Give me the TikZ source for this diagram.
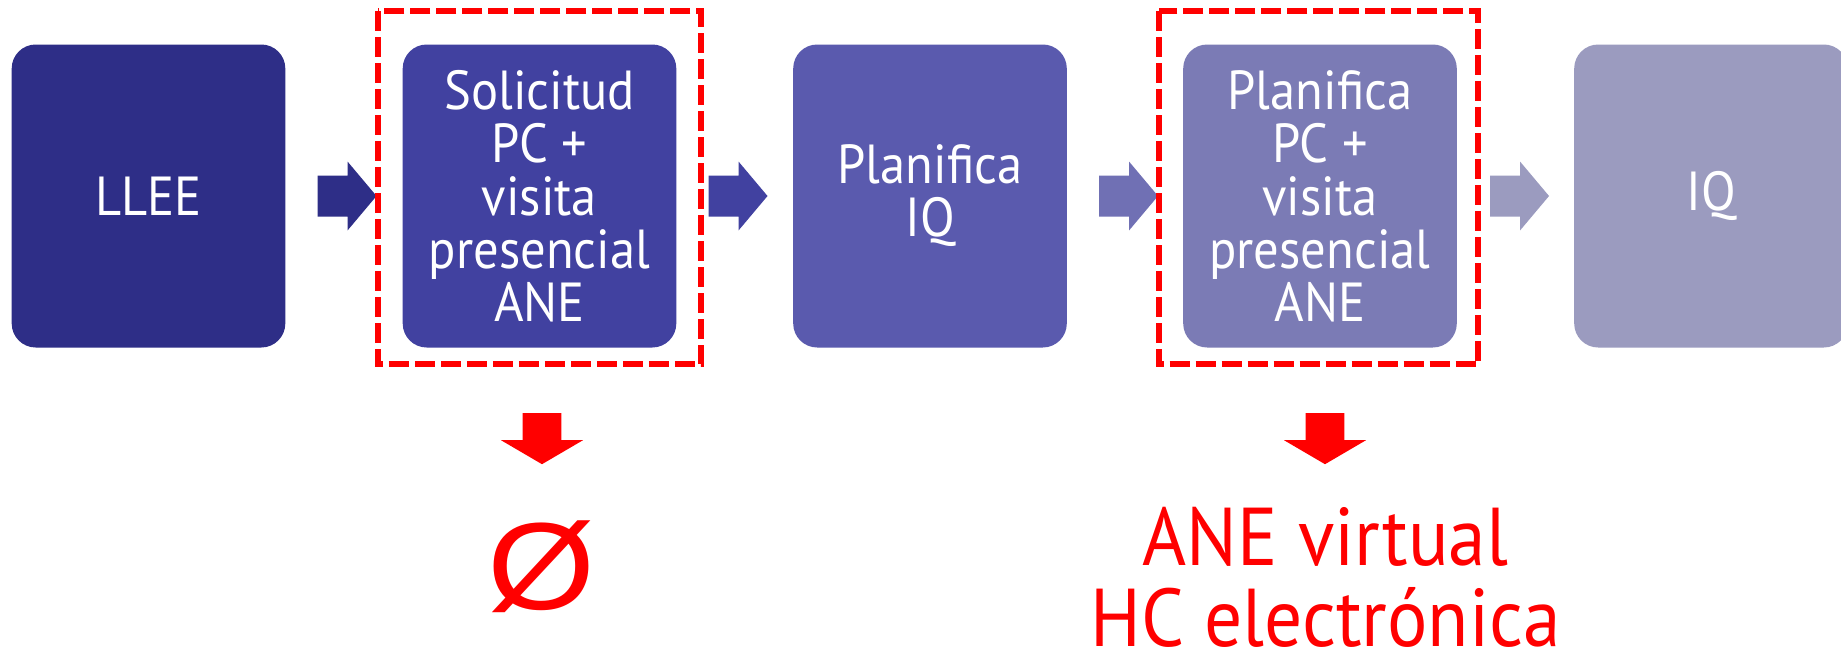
\documentclass[tikz,border=0pt]{standalone}
\usepackage{fontspec}
\setmainfont{PT Sans}[FakeStretch=0.92]
\newfontfamily\zerofont{Liberation Sans}
\definecolor{c1}{RGB}{46,46,135}
\definecolor{c2}{RGB}{65,65,160}
\definecolor{c3}{RGB}{90,90,174}
\definecolor{c4}{RGB}{123,123,181}
\definecolor{c5}{RGB}{155,155,191}
\definecolor{a3}{RGB}{112,112,180}
\begin{document}
\begin{tikzpicture}[x=1pt,y=-1pt,
  box/.style={rounded corners=24pt, minimum width=273.6pt, minimum height=303pt,
    inner sep=0pt, text=white, align=center, font=\fontsize{55}{53}\selectfont},
  reddash/.style={draw=red, line width=6pt, dash pattern=on 20pt off 6pt},
  redtxt/.style={text=red, inner sep=0pt},
  rarrow/.pic={\fill (0,-20.5) -- (30,-20.5) -- (30,-34.5) -- (59,0) -- (30,34.5) -- (30,20.5) -- (0,20.5) -- cycle;},
  darrow/.pic={\fill (-19.3,0) -- (19.3,0) -- (19.3,27) -- (41,27) -- (0,51) -- (-41,27) -- (-19.3,27) -- cycle;}]
\clip (0,0) rectangle (1841,651);
\fill[white] (0,0) rectangle (1841,651);
\node[box, fill=c1] (b1) at (148.5,196) {LLEE};
\node[box, fill=c2] (b2) at (539.5,196) {Solicitud\\PC +\\visita\\presencial\\ANE};
\node[box, fill=c3] (b3) at (930,196) {Planifica\\IQ};
\node[box, fill=c4] (b4) at (1320,196) {Planifica\\PC +\\visita\\presencial\\ANE};
\node[box, fill=c5] (b5) at (1711,196) {IQ};
\pic[color=c1] at ([xshift=32pt]b1.east) {rarrow};
\pic[color=c2] at ([xshift=32pt]b2.east) {rarrow};
\pic[color=a3] at ([xshift=32pt]b3.east) {rarrow};
\pic[color=c5] at ([xshift=33pt]b4.east) {rarrow};
\draw[reddash] ([xshift=-24.7pt,yshift=33pt]b2.north west) rectangle ([xshift=24.7pt,yshift=-16.5pt]b2.south east);
\draw[reddash] ([xshift=-24.5pt,yshift=33pt]b4.north west) rectangle ([xshift=21pt,yshift=-16.5pt]b4.south east);
\pic[color=red] at ([xshift=2.5pt,yshift=-65.5pt]b2.south) {darrow};
\pic[color=red] at ([xshift=5pt,yshift=-65.5pt]b4.south) {darrow};
\node[redtxt, anchor=base, font=\zerofont\fontsize{124}{124}\selectfont] (empty) at (542,609) {\scalebox{1.12}[1]{Ø}};
\node[redtxt, anchor=base, font=\fontsize{82}{82}\selectfont] (t1) at (1325.5,565) {ANE virtual};
\node[redtxt, anchor=base, font=\fontsize{82}{82}\selectfont] (t2) at (1325.5,646) {HC electrónica};
\end{tikzpicture}
\end{document}
